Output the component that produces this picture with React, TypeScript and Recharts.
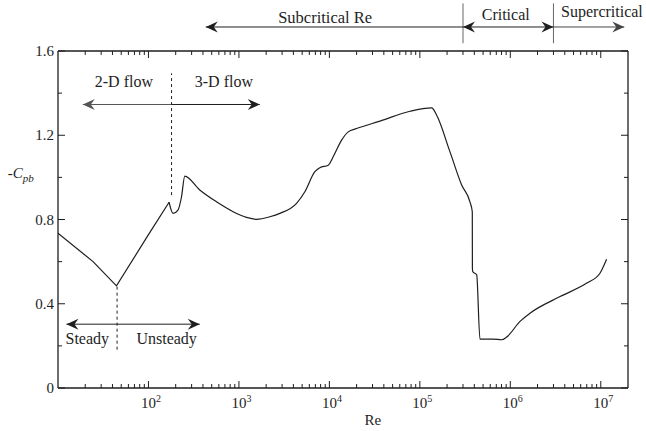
import React from 'react';
import {
  LineChart,
  Line,
  XAxis,
  YAxis,
  ReferenceLine,
  ReferenceDot,
} from 'recharts';

// Re values (log axis) and the matching -Cpb readings
const reValues = [
  10, 24.4, 44.3, 100, 169, 187, 212, 232, 252, 369, 565, 863, 1213, 1566, 2198,
  2834, 4335, 5357, 6912, 7852, 9706, 11020, 13650, 16150, 20000, 36230, 77800,
  135200, 153500, 215400, 290000, 358000, 380000, 381000, 384000, 425000, 462000,
  648000, 803000, 912000, 1.28e6, 1.65e6, 3.55e6, 7.0e6, 9.8e6, 1.16e7,
];
const cpbValues = [
  0.735, 0.6, 0.485, 0.728, 0.882, 0.829, 0.845, 0.908, 1.006, 0.94, 0.884, 0.837,
  0.81, 0.801, 0.813, 0.829, 0.877, 0.932, 1.027, 1.046, 1.058, 1.098, 1.177,
  1.216, 1.232, 1.267, 1.314, 1.33, 1.295, 1.121, 0.964, 0.884, 0.837, 0.569,
  0.553, 0.537, 0.232, 0.232, 0.229, 0.242, 0.316, 0.355, 0.434, 0.498, 0.545,
  0.611,
];
// the 2-D branch is made of straight pieces up to the first peak, smooth after
const sharpUntilRe = 169;

const xDomain = [10, 2e7];
const yDomain = [0, 1.6];
const xMajorTicks = [100, 1e3, 1e4, 1e5, 1e6, 1e7];
const xDecades = [10, 100, 1e3, 1e4, 1e5, 1e6];
const xMinorSteps = [2, 3, 4, 5, 6, 7, 8, 9];
const yMajorTicks = [0, 0.4, 0.8, 1.2, 1.6];
const yMinorTicks = [0.2, 0.6, 1.0, 1.4];
const yTickLabels = ['0', '0.4', '0.8', '1.2', '1.6'];

// regime boundaries
const criticalStart = 3e5;
const criticalEnd = 3e6;
const wakeTransition = 180;
const sheddingOnset = 45;

const FONT = '"Liberation Serif", "Times New Roman", serif';
const INK = '#1e1e1e';

const data = reValues.map((re, i) => ({
  re,
  sharp: re <= sharpUntilRe ? cpbValues[i] : null,
  smooth: re >= sharpUntilRe ? cpbValues[i] : null,
}));
const xTicks = [
  ...xMajorTicks,
  ...xDecades.flatMap((d) => xMinorSteps.map((m) => m * d)),
].filter((v) => v > xDomain[0] && v < xDomain[1]);
const yTicks = [...yMajorTicks, ...yMinorTicks];

const BottomTick = (props: any) => {
  const { x, y, payload } = props;
  const v = payload.value;
  const major = xMajorTicks.includes(v);
  return (
    <g>
      <line x1={x} x2={x} y1={y} y2={y - (major ? 7 : 4)} stroke={INK} strokeWidth={1} />
      {major && (
        <text x={x - 7.5} y={y + 20} fill={INK} fontSize={15} fontFamily={FONT}>
          10
          <tspan dy={-6} fontSize={10}>
            {Math.round(Math.log10(v))}
          </tspan>
        </text>
      )}
    </g>
  );
};

const TopTick = (props: any) => {
  const { x, y, payload } = props;
  const major = xMajorTicks.includes(payload.value);
  return <line x1={x} x2={x} y1={y} y2={y + (major ? 7 : 4)} stroke={INK} strokeWidth={1} />;
};

const LeftTick = (props: any) => {
  const { x, y, payload } = props;
  const idx = yMajorTicks.indexOf(payload.value);
  const major = idx >= 0;
  return (
    <g>
      <line x1={x} x2={x + (major ? 7 : 4)} y1={y} y2={y} stroke={INK} strokeWidth={1} />
      {major && (
        <text x={x - 4} y={y + 5} textAnchor="end" fill={INK} fontSize={15} fontFamily={FONT}>
          {yTickLabels[idx]}
        </text>
      )}
    </g>
  );
};

const RightTick = (props: any) => {
  const { x, y, payload } = props;
  const major = yMajorTicks.includes(payload.value);
  return <line x1={x} x2={x - (major ? 7 : 4)} y1={y} y2={y} stroke={INK} strokeWidth={1} />;
};

function arrowShape(opts: { start?: boolean; end?: boolean; color?: string; dash?: string }) {
  const color = opts.color ?? INK;
  return (p: any) => {
    const x1 = Number(p.x1), y1 = Number(p.y1), x2 = Number(p.x2), y2 = Number(p.y2);
    const len = Math.hypot(x2 - x1, y2 - y1) || 1;
    const ux = (x2 - x1) / len;
    const uy = (y2 - y1) / len;
    const head = (tx: number, ty: number, dx: number, dy: number) => {
      const L = 12, W = 5.5, N = 8;
      const bx = tx - dx * L, by = ty - dy * L;
      const nx = tx - dx * N, ny = ty - dy * N;
      return (
        <path
          d={`M${tx},${ty} L${bx - dy * W},${by + dx * W} L${nx},${ny} L${bx + dy * W},${by - dx * W} Z`}
          fill={color}
        />
      );
    };
    return (
      <g>
        <line x1={x1} y1={y1} x2={x2} y2={y2} stroke={color} strokeWidth={1} strokeDasharray={opts.dash} />
        {opts.start && head(x1, y1, -ux, -uy)}
        {opts.end && head(x2, y2, ux, uy)}
      </g>
    );
  };
}

function textShape(content: React.ReactNode, size = 16, anchor: 'start' | 'middle' | 'end' = 'start') {
  return (p: any) => (
    <text x={p.cx} y={p.cy} fill={INK} fontSize={size} fontFamily={FONT} textAnchor={anchor}>
      {content}
    </text>
  );
}

const topLevel = 1.714;
const flowLevel = 1.346;
const steadyLevel = 0.303;

export default function App() {
  return (
    <div style={{ position: 'absolute', left: 0, top: 0, background: '#fff' }}>
      <LineChart
        width={646}
        height={431}
        data={data}
        margin={{ top: 43, right: 10, bottom: 0, left: 0 }}
      >
        <XAxis
          dataKey="re"
          type="number"
          scale="log"
          domain={xDomain}
          allowDataOverflow
          ticks={xTicks}
          interval={0}
          tickSize={0}
          tickMargin={0}
          tickLine={false}
          height={43}
          axisLine={{ stroke: INK, strokeWidth: 1.3 }}
          tick={<BottomTick />}
        />
        <XAxis
          xAxisId="top"
          orientation="top"
          dataKey="re"
          type="number"
          scale="log"
          domain={xDomain}
          allowDataOverflow
          ticks={xTicks}
          interval={0}
          tickSize={0}
          tickMargin={0}
          tickLine={false}
          height={8}
          axisLine={{ stroke: INK, strokeWidth: 1.3 }}
          tick={<TopTick />}
        />
        <YAxis
          type="number"
          domain={yDomain}
          allowDataOverflow
          ticks={yTicks}
          interval={0}
          tickSize={0}
          tickMargin={0}
          tickLine={false}
          width={58}
          axisLine={{ stroke: INK, strokeWidth: 1.3 }}
          tick={<LeftTick />}
        />
        <YAxis
          yAxisId="right"
          orientation="right"
          type="number"
          domain={yDomain}
          allowDataOverflow
          ticks={yTicks}
          interval={0}
          tickSize={0}
          tickMargin={0}
          tickLine={false}
          width={8}
          axisLine={{ stroke: INK, strokeWidth: 1.3 }}
          tick={<RightTick />}
        />

        <Line
          type="linear"
          dataKey="sharp"
          stroke={INK}
          strokeWidth={1.2}
          dot={false}
          isAnimationActive={false}
        />
        <Line
          type="monotone"
          dataKey="smooth"
          stroke={INK}
          strokeWidth={1.2}
          dot={false}
          isAnimationActive={false}
        />

        {/* regime boundaries above the frame */}
        <ReferenceLine
          segment={[{ x: criticalStart, y: 1.637 }, { x: criticalStart, y: 1.826 }]}
          ifOverflow="visible"
          stroke="#666"
          strokeWidth={1}
        />
        <ReferenceLine
          segment={[{ x: criticalEnd, y: 1.637 }, { x: criticalEnd, y: 1.826 }]}
          ifOverflow="visible"
          stroke="#666"
          strokeWidth={1}
        />
        <ReferenceLine
          segment={[{ x: 430, y: topLevel }, { x: criticalStart, y: topLevel }]}
          ifOverflow="visible"
          shape={arrowShape({ start: true })}
        />
        <ReferenceLine
          segment={[{ x: criticalStart, y: topLevel }, { x: criticalEnd, y: topLevel }]}
          ifOverflow="visible"
          shape={arrowShape({ start: true, end: true })}
        />
        <ReferenceLine
          segment={[{ x: criticalEnd, y: topLevel }, { x: 1.82e7, y: topLevel }]}
          ifOverflow="visible"
          shape={arrowShape({ end: true, color: '#444' })}
        />

        {/* 2-D / 3-D wake */}
        <ReferenceLine
          segment={[{ x: wakeTransition, y: 0.916 }, { x: wakeTransition, y: 1.494 }]}
          ifOverflow="visible"
          shape={arrowShape({ dash: '3 3' })}
        />
        <ReferenceLine
          segment={[{ x: 18.8, y: flowLevel }, { x: wakeTransition, y: flowLevel }]}
          ifOverflow="visible"
          shape={arrowShape({ start: true, color: '#555' })}
        />
        <ReferenceLine
          segment={[{ x: wakeTransition, y: flowLevel }, { x: 1700, y: flowLevel }]}
          ifOverflow="visible"
          shape={arrowShape({ end: true })}
        />

        {/* steady / unsteady */}
        <ReferenceLine
          segment={[{ x: sheddingOnset, y: 0.182 }, { x: sheddingOnset, y: 0.485 }]}
          ifOverflow="visible"
          shape={arrowShape({ dash: '3 3' })}
        />
        <ReferenceLine
          segment={[{ x: 12.4, y: steadyLevel }, { x: 369, y: steadyLevel }]}
          ifOverflow="visible"
          shape={arrowShape({ start: true, end: true })}
        />

        {/* texts */}
        <ReferenceDot x={2717} y={1.734} ifOverflow="visible" shape={textShape('Subcritical Re', 16.5)} />
        <ReferenceDot x={4.83e5} y={1.746} ifOverflow="visible" shape={textShape('Critical')} />
        <ReferenceDot x={3.64e6} y={1.76} ifOverflow="visible" shape={textShape('Supercritical')} />
        <ReferenceDot x={25.5} y={1.427} ifOverflow="visible" shape={textShape('2-D flow')} />
        <ReferenceDot x={325} y={1.427} ifOverflow="visible" shape={textShape('3-D flow')} />
        <ReferenceDot x={12.1} y={0.21} ifOverflow="visible" shape={textShape('Steady')} />
        <ReferenceDot x={73.6} y={0.21} ifOverflow="visible" shape={textShape('Unsteady')} />
        <ReferenceDot
          x={30300}
          y={-0.174}
          ifOverflow="visible"
          shape={textShape('Re', 15, 'middle')}
        />
        <ReferenceDot
          x={2.78}
          y={0.997}
          ifOverflow="visible"
          shape={textShape(
            <>
              -<tspan fontStyle="italic">C</tspan>
              <tspan fontStyle="italic" fontSize={11} dy={4}>
                pb
              </tspan>
            </>,
            15,
          )}
        />
      </LineChart>
    </div>
  );
}
